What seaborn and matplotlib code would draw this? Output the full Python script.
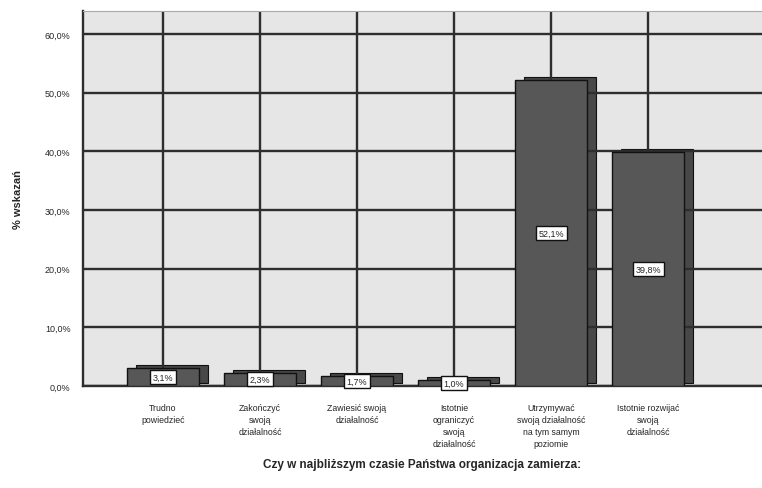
import matplotlib
matplotlib.use("Agg")
import matplotlib.pyplot as plt
import matplotlib.transforms as mtransforms
import seaborn as sns
import pandas as pd

categories = [
    "Trudno\npowiedzieć",
    "Zakończyć\nswoją\ndziałalność",
    "Zawiesić swoją\ndziałalność",
    "Istotnie\nograniczyć\nswoją\ndziałalność",
    "Utrzymywać\nswoją działalność\nna tym samym\npoziomie",
    "Istotnie rozwijać\nswoją\ndziałalność",
]
values = [3.1, 2.3, 1.7, 1.0, 52.1, 39.8]
value_labels = ["3,1%", "2,3%", "1,7%", "1,0%", "52,1%", "39,8%"]
y_ticks = [0, 10, 20, 30, 40, 50, 60]
y_tick_labels = ["0,0%", "10,0%", "20,0%", "30,0%", "40,0%", "50,0%", "60,0%"]

df = pd.DataFrame({"kategoria": categories, "procent": values})

sns.set_style("white")
plt.rcParams["font.family"] = ["Liberation Sans", "DejaVu Sans"]

fig = plt.figure(figsize=(7.62, 4.89), dpi=100)
ax = fig.add_axes([83 / 762, 1 - 387 / 489, 1 - 83 / 762, (387 - 12) / 489])
ax.set_facecolor("#e6e6e6")

# back face of each bar (3D shadow), shifted up and to the right
sns.barplot(data=df, x="kategoria", y="procent", ax=ax, color="#484848",
            saturation=1, width=0.75, edgecolor="#111111", linewidth=0.8,
            errorbar=None, zorder=1)
n_shadow = len(ax.patches)
shift = mtransforms.ScaledTranslation(9 / 100, 3 / 100, fig.dpi_scale_trans)
for p in ax.patches[:n_shadow]:
    p.set_transform(ax.transData + shift)

# front face
sns.barplot(data=df, x="kategoria", y="procent", ax=ax, color="#575757",
            saturation=1, width=0.75, edgecolor="#111111", linewidth=1.0,
            errorbar=None, zorder=3)

ax.set_axisbelow(False)
ax.set_ylim(0, 63.9)
ax.set_xlim(-0.825, 6.175)
ax.set_yticks(y_ticks)
ax.set_yticklabels(y_tick_labels, fontsize=6.5)
ax.set_xticks(range(len(categories)))
ax.set_xticklabels(categories, fontsize=6.3, linespacing=1.45, va="top")

# grid lines sit between the back and front faces
for y in y_ticks:
    ax.axhline(y, color="#2e2e2e", lw=1.7, zorder=2)
for i in range(len(categories)):
    ax.axvline(i, color="#2e2e2e", lw=1.7, zorder=2)

ax.tick_params(axis="y", direction="out", length=7, width=1.5, color="#2e2e2e", pad=2)
ax.tick_params(axis="x", direction="out", length=7, width=1.5, color="#2e2e2e", pad=5)

for side in ["left", "bottom"]:
    ax.spines[side].set_color("#2e2e2e")
    ax.spines[side].set_linewidth(1.7)
ax.spines["top"].set_color("#aaaaaa")
ax.spines["right"].set_visible(False)

for i, (v, lab) in enumerate(zip(values, value_labels)):
    ax.text(i, v / 2, lab, ha="center", va="center", fontsize=6.5, zorder=5,
            bbox=dict(boxstyle="square,pad=0.3", fc="white", ec="#111111", lw=1.0))

ax.set_ylabel("% wskazań", fontsize=8, fontweight="bold", labelpad=16)
ax.set_xlabel("Czy w najbliższym czasie Państwa organizacja zamierza:",
              fontsize=8.5, fontweight="bold", labelpad=7)

fig.savefig("out.png", dpi=100)
